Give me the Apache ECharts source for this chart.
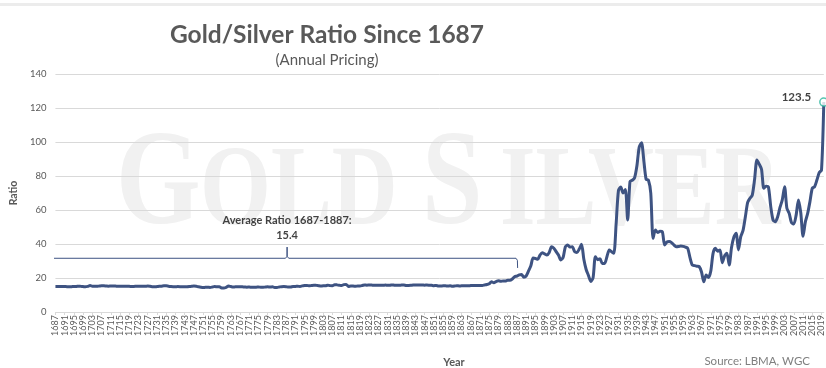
<!DOCTYPE html>
<html><head><meta charset="utf-8">
<script src="https://cdn.jsdelivr.net/npm/echarts@6/dist/echarts.min.js"></script>
<style>html,body{margin:0;padding:0;background:#fff}#c{width:826px;height:368px}</style>
</head><body><div id="c"></div>
<script>
// ---- data ----
const firstYear = 1687, lastYear = 2020;
const years = [];
for (let y = firstYear; y <= lastYear; y++) years.push(String(y));

const ratio1687_1887 = [
  14.94,14.94,15.02,15.02,14.98,14.92,14.83,14.87,15.02,15.00,
  15.20,15.07,14.94,14.81,15.07,15.52,15.17,15.22,15.11,15.27,
  15.44,15.41,15.31,15.22,15.29,15.31,15.24,15.13,15.11,15.09,
  15.13,15.11,15.09,15.04,15.05,15.17,15.20,15.11,15.11,15.15,
  15.24,15.11,14.92,14.81,14.94,15.09,15.18,15.39,15.41,15.18,
  15.02,14.91,14.91,14.94,14.92,14.85,14.85,14.87,14.98,15.13,
  15.26,15.11,14.80,14.55,14.39,14.54,14.54,14.48,14.68,14.94,
  14.87,14.85,14.15,14.14,14.54,15.27,14.99,14.70,14.83,14.80,
  14.85,14.80,14.72,14.62,14.66,14.52,14.62,14.62,14.72,14.55,
  14.54,14.68,14.80,14.72,14.78,14.42,14.48,14.70,14.92,14.96,
  14.92,14.65,14.75,15.04,15.05,15.17,15.00,15.37,15.55,15.65,
  15.41,15.59,15.74,15.68,15.46,15.26,15.41,15.41,15.79,15.52,
  15.43,16.08,15.96,15.77,15.53,16.11,16.25,15.04,15.26,15.28,
  15.11,15.35,15.33,15.62,15.95,15.80,15.84,15.82,15.70,15.76,
  15.74,15.78,15.78,15.82,15.72,15.73,15.93,15.73,15.80,15.72,
  15.83,15.85,15.62,15.62,15.70,15.87,15.93,15.85,15.92,15.90,
  15.80,15.85,15.78,15.70,15.46,15.59,15.33,15.33,15.38,15.38,
  15.27,15.38,15.19,15.29,15.50,15.35,15.37,15.37,15.44,15.43,
  15.57,15.59,15.60,15.57,15.57,15.63,15.93,16.16,16.64,17.75,
  17.20,17.92,18.39,18.05,18.25,18.20,18.64,18.61,19.41,20.78,
  21.10
];
const ratio1888_2020 = [
  21.8,22.0,20.5,21.2,24.0,27.0,31.7,31.5,31.0,33.5,
  34.9,34.2,33.5,35.0,38.4,37.5,35.5,33.5,30.6,32.0,
  38.4,39.4,38.2,38.4,35.5,35.0,37.0,39.8,31.0,25.0,
  21.5,18.0,20.2,32.5,30.8,31.3,28.5,28.5,32.5,36.5,
  35.5,34.5,52.0,71.5,73.5,70.0,72.0,54.1,76.7,77.5,
  79.0,86.0,97.0,99.6,89.0,78.0,77.5,70.0,43.3,48.2,
  46.8,47.5,47.3,39.4,41.2,41.4,40.8,39.5,38.4,38.5,
  38.8,38.6,38.2,37.5,32.0,27.6,27.3,26.9,26.7,23.5,
  17.8,21.8,20.3,24.0,34.5,37.5,35.8,36.5,29.0,33.0,
  34.5,27.6,38.0,44.0,46.3,36.5,44.3,48.0,56.0,64.5,
  66.9,68.8,78.0,89.4,87.0,84.0,72.8,74.0,73.5,62.0,
  54.1,53.1,56.0,61.5,66.0,73.7,61.0,58.0,52.5,51.8,
  57.0,65.9,58.5,44.5,53.0,58.0,65.0,72.8,73.7,77.6,
  82.0,83.5,123.5
];
const ratio = ratio1687_1887.concat(ratio1888_2020);

// annotation bracket (in year / ratio units)
const braceX = [1684.85, 1685.1, 1685.9, 1786.7, 1787.4, 1787.4, 1787.4, 1788.1, 1886.6, 1887.2, 1887.3];
const braceY = [25.9, 30.4, 31.6, 31.6, 32.8, 38.2, 32.8, 31.6, 31.6, 30.4, 25.9];
const braceLabelX = 1787.4, braceLabelY = 38.2;
const avgText = 'Average Ratio 1687-1887:\n15.4';

const yTicks = { min: 0, max: 140, interval: 20 };

// ---- chart ----
const chart = echarts.init(document.getElementById('c'), null, { renderer: 'canvas' });
const FONT = 'Lato, "Open Sans", sans-serif';
const grey = '#595959';
const lineColor = '#3e5382';

const braceData = braceX.map((x, i) => [x, braceY[i]]);
const lastIdx = ratio.length - 1;

function wm(text, x, y, size) {
  return { type: 'text', x: x, y: y, scaleX: 0.8, z: -10, silent: true,
    style: { text: text, fontFamily: '"Liberation Serif", serif', fontSize: size, fontWeight: 'bold',
      fill: '#f1f1f1', align: 'left', verticalAlign: 'middle' } };
}

chart.setOption({
  animation: false,
  backgroundColor: '#ffffff',
  title: [
    { text: 'Gold/Silver Ratio Since 1687', left: 322, top: 18, textAlign: 'center',
      textStyle: { fontFamily: FONT, fontSize: 24.5, fontWeight: 'bold', color: grey } },
    { text: '(Annual Pricing)', left: 322, top: 48, textAlign: 'center',
      textStyle: { fontFamily: FONT, fontSize: 15, fontWeight: 'normal', color: grey } },
    { text: 'Year', left: 449, top: 352, textAlign: 'center',
      textStyle: { fontFamily: FONT, fontSize: 11, fontWeight: 'bold', color: grey } },
    { text: 'Source: LBMA, WGC', right: 11, top: 350,
      textStyle: { fontFamily: FONT, fontSize: 11.5, fontWeight: 'normal', color: '#7f7f7f' } }
  ],
  graphic: [
    { type: 'rect', shape: { x: 0, y: 3, width: 826, height: 3 }, style: { fill: '#ececec' }, z: -10, silent: true },
    wm('G', 116, 188, 136), wm('OLD', 200, 195, 114),
    wm('S', 422, 188, 136), wm('ILVER', 500, 195, 114)
  ],
  grid: { left: 52, right: 1, top: 74, bottom: 56, containLabel: false },
  xAxis: [
    { type: 'category', data: years, boundaryGap: false,
      axisLine: { show: true, lineStyle: { color: '#d9d9d9' } },
      axisTick: { show: true, interval: 3, length: 3, lineStyle: { color: '#d9d9d9' } },
      axisLabel: { interval: 3, rotate: 90, fontSize: 9, color: grey, fontFamily: FONT, margin: 3 },
      splitLine: { show: false } },
    { type: 'value', min: firstYear, max: lastYear, show: false }
  ],
  yAxis: {
    type: 'value', min: yTicks.min, max: yTicks.max, interval: yTicks.interval,
    name: 'Ratio', nameLocation: 'middle', nameGap: 35,
    nameTextStyle: { fontFamily: FONT, fontSize: 10.5, fontWeight: 'bold', color: grey },
    axisLine: { show: false }, axisTick: { show: false },
    axisLabel: { fontSize: 9.5, color: grey, fontFamily: FONT, margin: 9 },
    splitLine: { lineStyle: { color: '#d9d9d9', width: 1 } }
  },
  series: [
    { type: 'line', name: 'Ratio', data: ratio, xAxisIndex: 0, showSymbol: false, symbol: 'none',
      smooth: 0.25, lineStyle: { color: lineColor, width: 3 }, z: 3 },
    { type: 'line', data: braceData, xAxisIndex: 1, showSymbol: false, symbol: 'none', clip: false,
      lineStyle: { color: lineColor, width: 1 }, z: 2 },
    { type: 'scatter', xAxisIndex: 1, data: [[braceLabelX, braceLabelY]], symbolSize: 1,
      itemStyle: { color: 'rgba(0,0,0,0)' }, clip: false,
      label: { show: true, position: 'top', distance: 4, formatter: avgText, lineHeight: 15,
        fontFamily: FONT, fontSize: 11, fontWeight: 'bold', color: '#111' } },
    { type: 'scatter', xAxisIndex: 0, data: [[years[lastIdx], ratio[lastIdx]]], symbol: 'circle', symbolSize: 8,
      clip: false, z: 5,
      itemStyle: { color: '#ffffff', borderColor: '#2bb59c', borderWidth: 1.5 },
      label: { show: true, position: 'left', distance: 8, offset: [0, -5],
        formatter: (p) => String(p.value[1]), fontFamily: FONT, fontSize: 11.5, fontWeight: 'bold', color: '#111' } }
  ]
});
</script></body></html>
